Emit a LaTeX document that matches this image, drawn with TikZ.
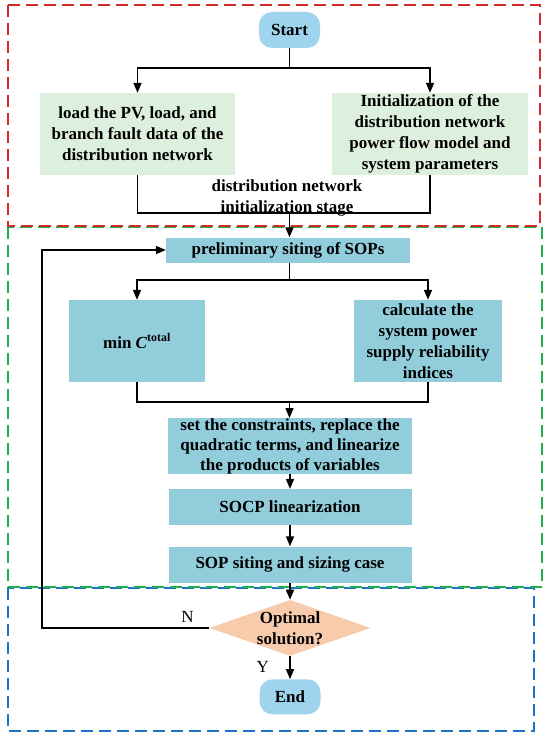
\documentclass[tikz,border=0pt]{standalone}
\usepackage{fontspec}
\setmainfont{Liberation Serif}
\usetikzlibrary{positioning, arrows.meta, shapes.geometric}

\definecolor{procblue}{HTML}{92CDDC}
\definecolor{termblue}{HTML}{9FD3EE}
\definecolor{initgreen}{HTML}{DDEFDD}
\definecolor{decorange}{HTML}{F8CBAD}
\definecolor{stagered}{HTML}{D42A2A}
\definecolor{stagegreen}{HTML}{1DB04B}
\definecolor{stageblue}{HTML}{1C75C8}

\begin{document}
\begin{tikzpicture}[
    x=1pt, y=1pt,
    font=\fontsize{17}{21}\selectfont\bfseries,
    term/.style={fill=termblue, rectangle, rounded corners=13pt, minimum width=61pt, minimum height=36pt},
    initbox/.style={fill=initgreen, rectangle, align=center, inner sep=1pt, minimum height=82pt},
    proc/.style={fill=procblue, rectangle, align=center, inner sep=1pt},
    dec/.style={fill=decorange, diamond, minimum width=161pt, minimum height=56pt, inner sep=0pt},
    frame/.style={line width=1.8pt, dash pattern=on 12pt off 6pt},
    arr/.style={-{Triangle[length=10pt, width=8pt]}, line width=1.6pt},
    wire/.style={line width=1.6pt},
    yn/.style={font=\fontsize{17}{21}\selectfont}
]
    \useasboundingbox (0,0) rectangle (550,-741);

    % Stage frames
    \draw[frame, stageblue] (8,-588) rectangle (534,-731);
    \draw[frame, stagegreen] (8,-227) rectangle (542,-587);
    \draw[frame, stagered] (8,-5) rectangle (540,-226);

    % Initialization stage
    \node[term] (start) at (289.5,-30) {Start};
    \node[initbox, minimum width=195pt] (load) at (137.5,-134) {load the PV, load, and\\branch fault data of the\\distribution network};
    \node[initbox, minimum width=196pt] (init) at (430,-134) {Initialization of the\\distribution network\\power flow model and\\system parameters};
    \node[align=center] (stagelbl) at (287,-198) {distribution network\\initialization stage};

    \coordinate (split1) at (289.5,-68);
    \coordinate (join1) at (289.5,-213);
    \draw[wire] (start.south) -- (split1);
    \draw[arr] (split1) -| (load.north);
    \draw[arr] (split1) -| (init.north);
    \draw[wire] (load.south) |- (join1) -| (init.south);

    % Siting and sizing stage
    \node[proc, minimum width=244pt, minimum height=25pt] (prelim) at (288,-250) {preliminary siting of SOPs};
    \node[proc, minimum width=136pt, minimum height=82pt] (mincost) at (137,-341) {min \textit{C}\textsuperscript{total}};
    \node[proc, minimum width=148pt, minimum height=82pt] (calc) at (428,-341) {calculate the\\system power\\supply reliability\\indices};
    \node[proc, minimum width=244pt, minimum height=53pt, inner sep=0pt, font=\fontsize{17}{20}\selectfont\bfseries] (cons) at (290,-446) {set the constraints, replace the\\quadratic terms, and linearize\\the products of variables};
    \node[proc, minimum width=243pt, minimum height=36pt, below=15pt of cons] (socp) {SOCP linearization};
    \node[proc, minimum width=243pt, minimum height=36pt, below=21pt of socp] (case) {SOP siting and sizing case};

    \draw[arr] (join1) -- (join1 |- prelim.north);
    \coordinate (split2) at (289.5,-280);
    \coordinate (join2) at (289.5,-402);
    \draw[wire] (prelim.south -| split2) -- (split2);
    \draw[arr] (split2) -| (mincost.north);
    \draw[arr] (split2) -| (calc.north);
    \draw[wire] (mincost.south) |- (join2) -| (calc.south);
    \draw[arr] (join2) -- (join2 |- cons.north);
    \draw[arr] (cons.south -| socp.north) -- (socp.north);
    \draw[arr] (socp.south) -- (case.north);

    % Decision stage
    \node[dec, below=17pt of case, label={[align=center]center:Optimal\\solution?}] (opt) {};
    \node[term, minimum height=35pt, below=23pt of opt] (end) {End};
    \coordinate (loopc) at (42,-626);

    \draw[arr] (case.south) -- (opt.north);
    \draw[arr] (opt.south) -- (end.north) node[yn, pos=0.45, left=17pt] (ylbl) {Y};
    \draw[arr] (opt.west) -- (loopc |- opt.west) |- (prelim.west);
    \node[yn, above left=2pt and 12pt of opt.west] (nlbl) {N};
\end{tikzpicture}
\end{document}
